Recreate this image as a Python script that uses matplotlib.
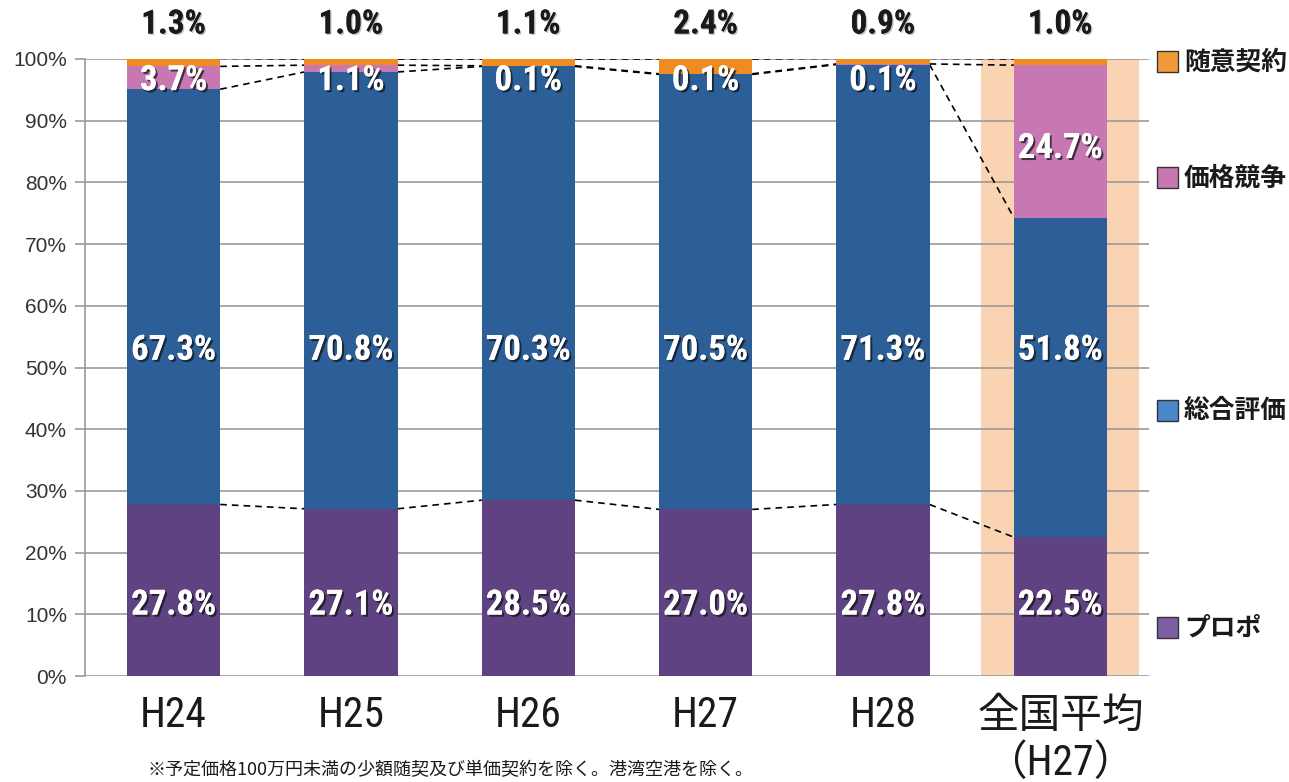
import matplotlib
matplotlib.use("Agg")
import matplotlib.pyplot as plt
import matplotlib.patheffects as pe
from matplotlib.patches import Rectangle
from matplotlib import font_manager
import numpy as np

plt.rcParams['font.family'] = ['Noto Sans CJK JP', 'DejaVu Sans']

categories = ['H24', 'H25', 'H26', 'H27', 'H28', '全国平均\n（H27）']
series_names = ['プロポ', '総合評価', '価格競争', '随意契約']
propo = [27.8, 27.1, 28.5, 27.0, 27.8, 22.5]
sogo = [67.3, 70.8, 70.3, 70.5, 71.3, 51.8]
kakaku = [3.7, 1.1, 0.1, 0.1, 0.1, 24.7]
zuii = [1.3, 1.0, 1.1, 2.4, 0.9, 1.0]
yticks = [0, 10, 20, 30, 40, 50, 60, 70, 80, 90, 100]
note = '※予定価格100万円未満の少額随契及び単価契約を除く。港湾空港を除く。'

bar_colors = ['#5e4282', '#2c5e98', '#c777b1', '#ee8c22']
legend_colors = ['#7e5ea3', '#4a87c9', '#c878b0', '#f39a38']

names = {f.name for f in font_manager.fontManager.ttflist}
narrow = 'Liberation Sans Narrow' if 'Liberation Sans Narrow' in names else 'Roboto Condensed' if 'Roboto Condensed' in names else 'Liberation Sans'
num_family = [narrow, 'Noto Sans CJK JP', 'DejaVu Sans']

W, H = 1289, 782
fig = plt.figure(figsize=(W / 100, H / 100), dpi=100)
ax = fig.add_axes([85 / W, (H - 676) / H, (1149 - 85) / W, (676 - 59) / H])

x = np.arange(len(categories))
bw = 0.525
ax.set_xlim(-0.5, len(categories) - 0.5)
ax.set_ylim(0, 100)

ax.axvspan(x[-1] - 0.445, x[-1] + 0.445, color='#fad3b2', zorder=0, lw=0)

for yv in yticks:
    ax.axhline(yv, color='#9a9a9a', lw=1.2, zorder=1)

data = [propo, sogo, kakaku, zuii]
bottom = np.zeros(len(categories))
cums = []
for vals, col in zip(data, bar_colors):
    vals = np.array(vals)
    ax.bar(x, vals, bw, bottom=bottom, color=col, edgecolor='none', zorder=3)
    bottom = bottom + vals
    cums.append(bottom.copy())

for c in cums:
    for i in range(len(categories) - 1):
        ax.plot([x[i] + bw / 2, x[i + 1] - bw / 2], [c[i], c[i + 1]],
                ls=(0, (4, 3)), color='black', lw=1.2, zorder=2)

shadow = [pe.withSimplePatchShadow(offset=(1.5, -1.5), shadow_rgbFace='#111111', alpha=0.7), pe.Normal()]
lab_font = dict(color='white', fontsize=25, fontweight='bold', ha='center', va='center',
                zorder=6, path_effects=shadow, family=num_family)

for i in range(len(categories)):
    ax.text(x[i], 11.5, f'{propo[i]:.1f}%', **lab_font)
    ax.text(x[i], 52.8, f'{sogo[i]:.1f}%', **lab_font)
    ky = 85.5 if kakaku[i] > 10 else 96.5
    ax.text(x[i], ky, f'{kakaku[i]:.1f}%', **lab_font)
    ax.text(x[i], 105.6, f'{zuii[i]:.1f}%', color='#1a1a1a', fontsize=24, fontweight='bold',
            ha='center', va='center', clip_on=False, family=num_family,
            path_effects=[pe.withSimplePatchShadow(offset=(1, -1), shadow_rgbFace='#888888', alpha=0.5), pe.Normal()])

ax.set_yticks(yticks)
ax.set_yticklabels([f'{v}%' for v in yticks], fontsize=15, color='#333333',
                   family=['Liberation Sans', 'DejaVu Sans'])
ax.tick_params(axis='y', length=7, color='#9a9a9a', width=1.2, pad=6)
ax.set_xticks(x)
ax.set_xticklabels(categories, fontsize=30, color='#1a1a1a', linespacing=1.2, family=num_family)
ax.tick_params(axis='x', length=0, pad=14)
for s in ['top', 'right', 'bottom']:
    ax.spines[s].set_visible(False)
ax.spines['left'].set_color('#9a9a9a')
ax.spines['left'].set_linewidth(1.2)

leg_y = [628, 411, 178, 62]
for name, col, yp in zip(series_names, legend_colors, leg_y):
    fig.add_artist(Rectangle((1157 / W, (H - yp - 10) / H), 21 / W, 21 / H,
                             transform=fig.transFigure, facecolor=col, edgecolor='#333333', lw=1.0))
    fig.text(1184 / W, (H - yp) / H, name, fontsize=18.5, fontweight='bold', color='#1a1a1a',
             ha='left', va='center')

fig.text(450 / W, (H - 770) / H, note, fontsize=13, color='#1a1a1a', ha='center', va='center')

fig.savefig('out.png', dpi=100)
